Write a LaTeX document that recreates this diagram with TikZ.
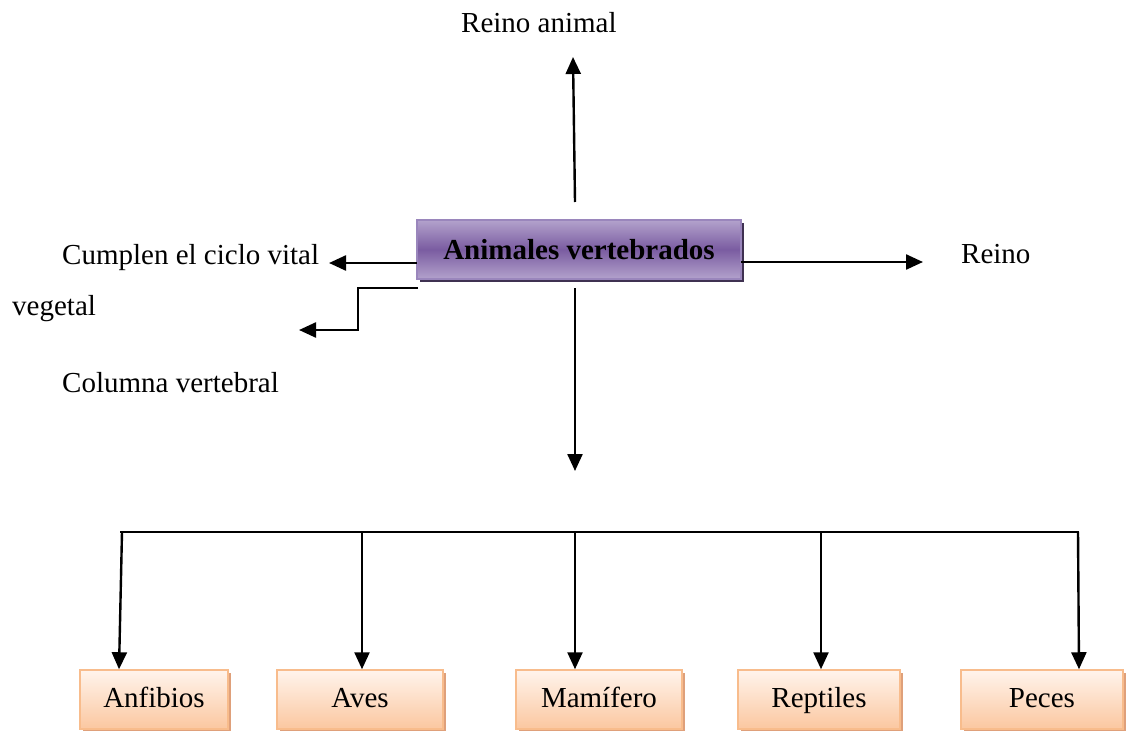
\documentclass[tikz,border=0pt]{standalone}
\usepackage{fontspec}
\setmainfont{Liberation Serif}
\usetikzlibrary{arrows.meta,shadows}
\definecolor{purTop}{HTML}{B3A2CC}
\definecolor{purMid}{HTML}{7A5CA1}
\definecolor{purBorder}{HTML}{9A86BC}
\definecolor{purShadow}{HTML}{3F3151}
\definecolor{orTop}{HTML}{FFF4EC}
\definecolor{orBot}{HTML}{FBC7A0}
\definecolor{orBorder}{HTML}{F8BC8C}
\definecolor{orShadow}{HTML}{DFA07A}
\tikzset{
  lbl/.style={anchor=base west, inner sep=0pt, font=\fontsize{29}{34}\selectfont},
  mainbox/.style={draw=purBorder, line width=1.5pt, top color=purTop, bottom color=purTop, middle color=purMid,
    minimum width=324pt, minimum height=59pt, inner sep=0pt, text height=22pt, text depth=3pt,
    font=\fontsize{29}{34}\selectfont\bfseries,
    drop shadow={shadow xshift=3pt, shadow yshift=-3pt, fill=purShadow, opacity=1}},
  catbox/.style={draw=orBorder, line width=1.5pt, top color=orTop, bottom color=orBot,
    minimum height=59pt, inner sep=0pt, text height=20pt, text depth=5pt,
    font=\fontsize{29}{34}\selectfont,
    drop shadow={shadow xshift=3pt, shadow yshift=-3pt, fill=orShadow, opacity=1}},
  arr/.style={line width=2.4pt, -{Triangle[length=17pt,width=15pt]}},
  ln/.style={line width=2.4pt}
}
\begin{document}
\begin{tikzpicture}[x=1pt,y=-1pt]
\useasboundingbox (0,0) rectangle (1130,731);
% central box
\node[mainbox] (av) at (579,249.5) {Animales vertebrados};
% labels
\node[lbl] (ra) at (461,32) {Reino animal};
\node[lbl] (cv) at (62,264) {Cumplen el ciclo vital};
\node[lbl] (rn) at (961,263) {Reino};
\node[lbl] (vg) at (12,315) {vegetal};
\node[lbl] (cl) at (62,392) {Columna vertebral};
% category boxes
\node[catbox, minimum width=148pt] (anf) at (154,699.5) {Anfibios};
\node[catbox, minimum width=166pt] (ave) at (360,699.5) {Aves};
\node[catbox, minimum width=166pt] (mam) at (599,699.5) {Mamífero};
\node[catbox, minimum width=162pt] (rep) at (819,699.5) {Reptiles};
\node[catbox, minimum width=162pt] (pec) at (1042,699.5) {Peces};
% coordinates
\coordinate (upA) at (575,202);
\coordinate (upB) at (573,57);
\coordinate (lA) at (417,263);
\coordinate (lB) at (329,263);
\coordinate (rA) at (741,262);
\coordinate (rB) at (923,262);
\coordinate (eA) at (418,288);
\coordinate (eB) at (358,288);
\coordinate (eC) at (358,330);
\coordinate (eD) at (299,330);
\coordinate (dA) at (575,288);
\coordinate (dB) at (575,471);
\coordinate (j1) at (122,532);
\coordinate (j2) at (362,532);
\coordinate (j3) at (575,532);
\coordinate (j4) at (821,532);
\coordinate (j5) at (1078,532);
% connectors
\draw[arr] (upA) -- (upB);
\draw[arr] (lA) -- (lB);
\draw[arr] (rA) -- (rB);
\draw[arr] (eA) -- (eB) -- (eC) -- (eD);
\draw[arr] (dA) -- (dB);
\draw[ln] ([xshift=-2pt]j1) -- ([xshift=1pt]j5);
\draw[arr] (j1) -- ([xshift=-3pt]j1 |- anf.north);
\draw[arr] (j2) -- (j2 |- ave.north);
\draw[arr] (j3) -- (j3 |- mam.north);
\draw[arr] (j4) -- (j4 |- rep.north);
\draw[arr] (j5) -- ([xshift=1pt]j5 |- pec.north);
\end{tikzpicture}
\end{document}
